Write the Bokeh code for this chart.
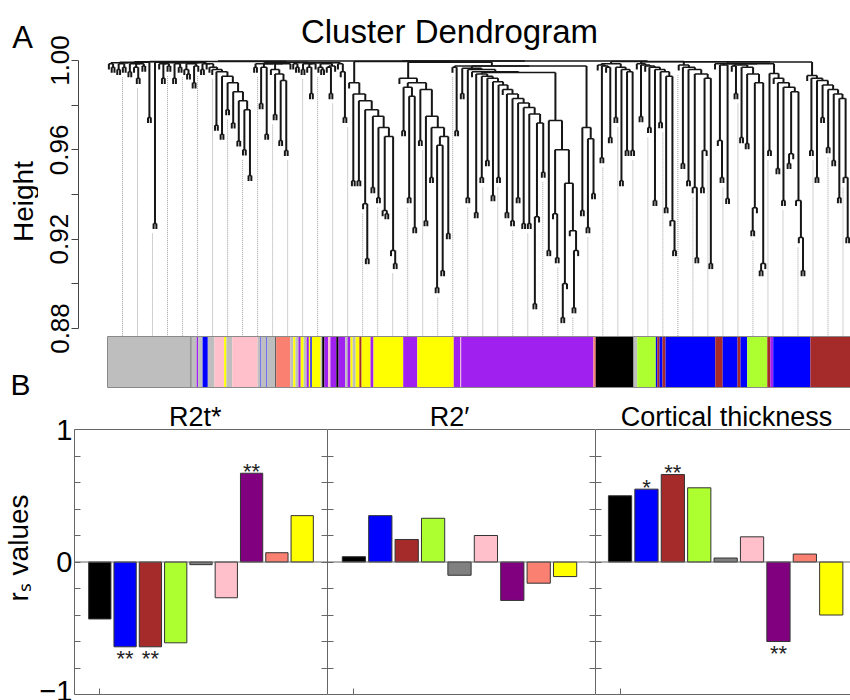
import numpy as np
from math import pi
from bokeh.plotting import figure
from bokeh.models import Range1d, LinearAxis, FixedTicker, Span, Label, ColumnDataSource, PrintfTickFormatter
from bokeh.layouts import column, row
from bokeh.embed import file_html
from bokeh.resources import INLINE
from bokeh.core.properties import value

FONT = "Liberation Sans"

# ---------------- Panel A: dendrogram (adjacent-leaf merge heights, left to right) ----------------
dendro_r01 = [0.9985, 0.9970, 0.9990, 0.9960, 0.9985, 0.9970, 0.9990, 0.9950, 0.9985, 0.9970, 0.9920, 0.9985, 0.9975]
dendro_r02 = [0.9992, 0.9745, 0.9994, 0.9270, 0.9992]
dendro_r03 = [0.9985, 0.9920, 0.9985, 0.9975, 0.9990, 0.9920, 0.9985, 0.9970, 0.9990, 0.9960, 0.9940, 0.9985,
              0.9900, 0.9975, 0.9990, 0.9960, 0.9985, 0.9985, 0.9970]
dendro_r04 = [0.9960, 0.9710, 0.9950, 0.9670, 0.9930, 0.9780, 0.9900, 0.9720, 0.9860, 0.9640, 0.9820, 0.9600,
              0.9780, 0.9485]
dendro_r05 = [0.9995, 0.9970, 0.9985, 0.9807, 0.9970, 0.9670, 0.9985, 0.9960, 0.9758, 0.9940, 0.9642, 0.9910,
              0.9597, 0.9985, 0.9992]
dendro_r06 = [0.9985, 0.9970, 0.9990, 0.9960, 0.9985, 0.9970, 0.9852, 0.9985, 0.9990, 0.9970, 0.9960, 0.9985,
              0.9970, 0.9852, 0.9975, 0.9990, 0.9985, 0.9950, 0.9745]
dendro_r07 = [0.9998, 0.9900, 0.9462, 0.9850, 0.9462, 0.9820, 0.9359, 0.9113, 0.9780, 0.9431, 0.9750, 0.9386,
              0.9700, 0.9328, 0.9314, 0.9660, 0.9149, 0.9091]
dendro_r08 = [0.9995, 0.9920, 0.9686, 0.9880, 0.9386, 0.9840, 0.9252, 0.9900, 0.9642, 0.9870, 0.9283, 0.9750,
              0.9476, 0.9700, 0.8983, 0.9620, 0.9059, 0.9660, 0.9225]
dendro_r09 = [0.9992, 0.9970, 0.9686, 0.9975, 0.9852, 0.9965, 0.9386, 0.9960, 0.9950, 0.9319, 0.9940, 0.9476,
              0.9930, 0.9552, 0.9920, 0.9395, 0.9905, 0.9476, 0.9890, 0.9870, 0.9319, 0.9850, 0.9283, 0.9830,
              0.9386, 0.9810, 0.9270, 0.9790, 0.9270, 0.9760, 0.8911, 0.9300, 0.9720, 0.9500]
dendro_r10 = [0.9946, 0.9149, 0.9731, 0.9314, 0.9117, 0.9600, 0.8849, 0.9001, 0.9450, 0.9238, 0.8893, 0.9149]
dendro_r11 = [0.9975, 0.9328, 0.9700, 0.9252, 0.9650, 0.9404]
dendro_r12 = [0.9998, 0.9980, 0.9565, 0.9975, 0.9970, 0.9655, 0.9985, 0.9745, 0.9970, 0.9462, 0.9960, 0.9597,
              0.9950, 0.9597]
dendro_r13 = [0.9996, 0.9985, 0.9749, 0.9980, 0.9975, 0.9700, 0.9970, 0.9373, 0.9960, 0.9722, 0.9950, 0.9341,
              0.9930, 0.9283, 0.9149]
dendro_r14 = [0.9994, 0.9980, 0.9539, 0.9970, 0.9462, 0.9960, 0.9431, 0.9117, 0.9940, 0.9431, 0.9597, 0.9920,
              0.9091]
dendro_r15 = [0.9994, 0.9985, 0.9642, 0.9476, 0.9980, 0.9382, 0.9985, 0.9975, 0.9852, 0.9980, 0.9655, 0.9970,
              0.9628, 0.9940, 0.9238, 0.9341, 0.9900, 0.9059, 0.9091]
dendro_r16 = [0.9985, 0.9597, 0.9942, 0.9920, 0.9516, 0.9900, 0.9373, 0.9880, 0.9539, 0.9583, 0.9860, 0.9373,
              0.9207, 0.9059]
dendro_r17 = [0.9993, 0.9933, 0.9597, 0.9920, 0.9476, 0.9910, 0.9745, 0.9890, 0.9610, 0.9870, 0.9552, 0.9850,
              0.9386, 0.9830, 0.9476, 0.9207]

# module colour runs along the leaf order (run end, % of leaves)
module_run_colors = ["grey", "black", "grey", "purple", "grey", "blue", "grey", "pink", "yellow", "grey",
                     "pink", "grey", "blue", "grey", "blue", "grey", "black", "salmon", "grey", "yellow",
                     "grey", "purple", "yellow", "grey", "purple", "yellow", "blue", "yellow", "grey", "black",
                     "purple", "pink", "purple", "black", "purple", "grey", "purple", "yellow", "grey", "yellow",
                     "brown", "yellow", "purple", "yellow", "purple", "yellow", "purple", "pink", "purple", "salmon",
                     "black", "grey", "greenyellow", "blue", "brown", "blue", "brown", "blue", "brown", "blue",
                     "brown", "blue", "greenyellow", "brown", "purple", "blue", "brown"]
module_run_ends = [11.2, 11.3, 12.0, 12.2, 12.8, 13.5, 14.4, 15.7, 16.0, 16.8,
                   20.2, 20.6, 20.7, 21.4, 21.5, 22.6, 22.7, 24.6, 25.0, 25.3,
                   25.7, 26.0, 26.4, 26.8, 27.1, 27.3, 27.5, 28.7, 28.9, 29.2,
                   29.7, 30.0, 30.8, 31.1, 32.0, 32.3, 32.7, 33.0, 33.4, 33.9,
                   34.2, 35.4, 35.8, 39.8, 41.7, 46.6, 47.5, 47.6, 65.4, 65.7,
                   70.8, 71.3, 73.8, 74.0, 74.3, 74.7, 75.1, 81.8, 82.8, 84.8,
                   85.2, 86.1, 88.8, 89.2, 89.6, 94.6, 100.0]
R_COLORS = {"grey": "#BEBEBE", "black": "#000000", "purple": "#A020F0", "blue": "#0000FF", "pink": "#FFC0CB",
            "yellow": "#FFFF00", "salmon": "#FA8072", "brown": "#A52A2A", "greenyellow": "#ADFF2F"}

# ---------------- Panel B: module correlations ----------------
modules = ["black", "blue", "brown", "greenyellow", "grey", "pink", "purple", "salmon", "yellow"]
bar_colors = ["#000000", "#0000FF", "#A52A2A", "#ADFF2F", "#808080", "#FFC0CB", "#800080", "#FA8072", "#FFFF00"]
rs_r2t = [-0.43, -0.64, -0.64, -0.61, -0.02, -0.27, 0.67, 0.07, 0.35]
rs_r2p = [0.04, 0.35, 0.17, 0.33, -0.10, 0.20, -0.29, -0.16, -0.11]
rs_ct = [0.50, 0.55, 0.66, 0.56, 0.03, 0.19, -0.60, 0.06, -0.40]
sig_r2t = ["", "**", "**", "", "", "", "**", "", ""]
sig_r2p = ["", "", "", "", "", "", "", "", ""]
sig_ct = ["", "*", "**", "", "", "", "**", "", ""]
panel_titles = ["R2t*", "R2\u2032", "Cortical thickness"]

# ================= build dendrogram =================
merge_heights = (dendro_r01 + dendro_r02 + dendro_r03 + dendro_r04 + dendro_r05 + dendro_r06 + dendro_r07 +
                 dendro_r08 + dendro_r09 + dendro_r10 + dendro_r11 + dendro_r12 + dendro_r13 + dendro_r14 +
                 dendro_r15 + dendro_r16 + dendro_r17)
n_leaves = len(merge_heights) + 1
HANG = 0.0025

hx0, hx1, hy = [], [], []
vx, vy0, vy1 = [], [], []
leaf_bottom = {}


def build(lo, hi):
    if lo == hi:
        return lo + 0.5, None
    k = lo + int(np.argmax(merge_heights[lo:hi]))
    lx, lh = build(lo, k)
    rx, rh = build(k + 1, hi)
    h = merge_heights[k]
    hx0.append(lx); hx1.append(rx); hy.append(h)
    for cx, ch in ((lx, lh), (rx, rh)):
        if ch is None:
            ch = h - HANG
            leaf_bottom[int(cx)] = ch
        vx.append(cx); vy0.append(ch); vy1.append(h)
    return (lx + rx) / 2.0, h


build(0, n_leaves - 1)

PX_LEAF = 743.0 / n_leaves
H_PX = 0.12 / 268.0
MID = 0.3465  # baseline offset of a middle-anchored text, in font sizes


def ax_x(rx):
    return (rx - 107) / PX_LEAF


def ax_y(ry):
    return 1.0 - (ry - 60) * H_PX


TOP_H = 401
STRIP_A = 38
figA = figure(width=850 - STRIP_A, height=TOP_H,
              x_range=Range1d(ax_x(78), ax_x(850)),
              y_range=Range1d(ax_y(TOP_H), ax_y(0)),
              output_backend="svg", toolbar_location=None,
              x_axis_location=None, y_axis_location=None,
              min_border_left=78 - STRIP_A, min_border_right=0, min_border_top=0, min_border_bottom=0)
figA.outline_line_color = None
figA.xgrid.visible = False
figA.ygrid.visible = False

axA = LinearAxis(ticker=FixedTicker(ticks=[0.88, 0.92, 0.96, 1.00], minor_ticks=[0.90, 0.94, 0.98]),
                 formatter=PrintfTickFormatter(format="%.2f"),
                 bounds=(0.88, 1.0), major_tick_out=7, major_tick_in=0, minor_tick_out=7, minor_tick_in=0,
                 major_label_orientation="parallel", major_label_standoff=3,
                 major_label_text_font_size="26px", major_label_text_font=FONT,
                 major_label_text_color="black",
                 axis_line_color="#444444", major_tick_line_color="#444444", minor_tick_line_color="#444444")
figA.add_layout(axA, "left")

# guides hanging from each guide leaf to the colour bar
guide_x = [(k + 1) * n_leaves / 49.5 for k in range(49)]
guide_top = [leaf_bottom.get(min(int(g), n_leaves - 1), 0.995) - 0.002 for g in guide_x]
figA.segment(x0=guide_x, y0=guide_top, x1=guide_x, y1=[ax_y(336)] * len(guide_x),
             line_color="#a0a0a0", line_width=1, line_dash="1 1")

figA.segment(x0=vx, y0=vy0, x1=vx, y1=vy1, line_color="#161616", line_width=2.0)
figA.segment(x0=hx0, y0=hy, x1=hx1, y1=hy, line_color="#161616", line_width=1.5)

# colour bar (extra range: 0..1 spans the bar)
bar_unit = 51.0
figA.extra_y_ranges = {"bar": Range1d(-(TOP_H - 387) / bar_unit, 1 + 336 / bar_unit)}
run_starts = [0.0] + module_run_ends[:-1]
figA.quad(left=[s * n_leaves / 100 for s in run_starts],
          right=[e * n_leaves / 100 for e in module_run_ends],
          bottom=0, top=1, fill_color=[R_COLORS[c] for c in module_run_colors],
          line_color=None, y_range_name="bar")
figA.quad(left=[0], right=[n_leaves], bottom=[0], top=[1], fill_color=None,
          line_color="#8a8a8a", line_width=1, y_range_name="bar")

figA.add_layout(Label(x=ax_x(449), y=ax_y(42 - MID * 33), text="Cluster Dendrogram", text_align="center",
                      text_baseline="middle", text_font=FONT, text_font_size="33px", text_color="black"))

# left strip with the panel letters and the A axis title
stripA = figure(width=STRIP_A, height=TOP_H, x_range=Range1d(0, STRIP_A), y_range=Range1d(TOP_H, 0),
                output_backend="svg", toolbar_location=None, x_axis_location=None, y_axis_location=None,
                min_border=0)
stripA.outline_line_color = None
stripA.xgrid.visible = False
stripA.ygrid.visible = False
stripA.add_layout(Label(x=22, y=48 - MID * 31, text="A", text_align="center", text_baseline="middle",
                        text_font=FONT, text_font_size="31px", text_color="black"))
stripA.add_layout(Label(x=20, y=394 - MID * 30, text="B", text_align="center", text_baseline="middle",
                        text_font=FONT, text_font_size="30px", text_color="black"))
stripA.add_layout(Label(x=33 - MID * 28, y=201, text="Height", text_align="center", angle=pi / 2,
                        text_baseline="middle", text_font=FONT, text_font_size="28px", text_color="black"))

# ================= panel B =================
PX_UNIT = 26.4
PX_Y = 132.5
BOT_H = 700 - TOP_H
Y_TOP = 1 + (429 - TOP_H) / PX_Y
Y_ALL = [-1, -0.8, -0.6, -0.4, -0.2, 0, 0.2, 0.4, 0.6, 0.8, 1]


def inward_axis(major, minor, line=True, bounds="auto"):
    ax = LinearAxis(ticker=FixedTicker(ticks=major, minor_ticks=minor), bounds=bounds,
                    major_tick_in=6, major_tick_out=0, minor_tick_in=6, minor_tick_out=0,
                    major_tick_line_color="#666666", minor_tick_line_color="#666666",
                    axis_line_color="#666666" if line else None)
    ax.major_label_text_font_size = "29px"
    ax.major_label_text_font = FONT
    ax.major_label_text_color = "black"
    ax.major_label_standoff = 2
    return ax


def bar_panel(vals, marks, title, width, left_border, x0, with_labels, with_right, title_rx):
    x1 = x0 + (width - left_border) / PX_UNIT
    p = figure(width=width, height=BOT_H, x_range=Range1d(x0, x1), y_range=Range1d(-1, Y_TOP),
               output_backend="svg", toolbar_location=None, x_axis_location=None, y_axis_location=None,
               min_border_left=left_border, min_border_right=0, min_border_top=0, min_border_bottom=6)
    p.xgrid.visible = False
    p.ygrid.visible = False
    p.outline_line_color = None
    if with_labels:
        ax = inward_axis([-1, 0, 1], [-0.8, -0.6, -0.4, -0.2, 0.2, 0.4, 0.6, 0.8], bounds=(-1, 1))
        ax.axis_label = "r\u209b values"
        ax.axis_label_text_font = FONT
        ax.axis_label_text_font_size = "28px"
        ax.axis_label_text_font_style = "normal"
        ax.axis_label_text_color = "black"
        ax.axis_label_standoff = 2
        p.add_layout(ax, "left")
    else:
        p.add_layout(inward_axis([], Y_ALL, bounds=(-1, 1)), "left")
    if with_right:
        p.add_layout(inward_axis([], Y_ALL, bounds=(-1, 1)), "right")
    p.add_layout(inward_axis([], [1]), "below")
    p.add_layout(Span(location=1, dimension="width", line_color="#666666", line_width=1))
    p.add_layout(Span(location=0, dimension="width", line_color="#666666", line_width=1))
    xs = [i + 1 for i in range(len(modules))]
    src = ColumnDataSource(dict(x=xs, top=vals, color=bar_colors, mod=modules))
    p.vbar(x="x", top="top", bottom=0, width=0.88, fill_color="color", line_color="#333333",
           line_width=1, source=src)
    yoff = [-2 if v > 0 else 12 for v in vals]
    tsrc = ColumnDataSource(dict(x=xs, y=vals, t=marks, yo=yoff))
    p.text(x="x", y="y", text="t", y_offset="yo", source=tsrc, text_align="center",
           text_baseline="middle", text_font=value(FONT), text_font_size=value("22px"), text_color="#222222")
    p.add_layout(Label(x=x0 + title_rx / PX_UNIT, y=1 + (429 - (425.5 - MID * 27)) / PX_Y, text=title,
                       text_align="center", text_baseline="middle", text_font=FONT, text_font_size="27px",
                       text_color="black"))
    return p


pL = bar_panel(rs_r2t, sig_r2t, panel_titles[0], 327, 63, 0, True, True, 189 - 63)
pM = bar_panel(rs_r2p, sig_r2p, panel_titles[1], 595 - 327, 0, 0, False, True, 449 - 327)
pR = bar_panel(rs_ct, sig_ct, panel_titles[2], 850 - 595, 0, 0.07, False, False, 726 - 595)

layout = column(row(stripA, figA, spacing=0), row(pL, pM, pR, spacing=0), spacing=0)
open("out.html", "w").write(file_html(layout, INLINE))
